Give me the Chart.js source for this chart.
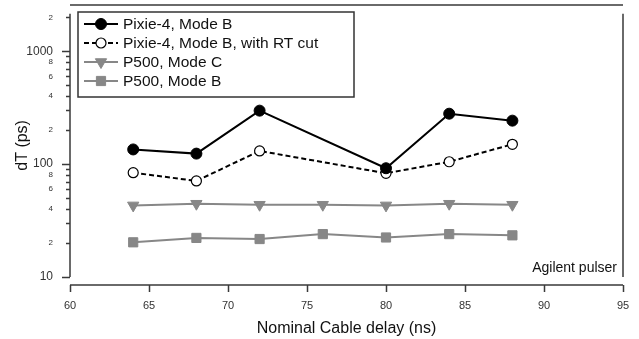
<!DOCTYPE html>
<html>
<head>
<meta charset="utf-8">
<script src="https://cdn.jsdelivr.net/npm/chart.js@4/dist/chart.umd.min.js"></script>
<style>
  html, body { margin: 0; padding: 0; background: #fff; }
  #wrap { width: 639px; height: 339px; }
</style>
</head>
<body>
<div id="wrap"><canvas id="chart" width="639" height="339"></canvas></div>
<script>
// cable delays (ns)
const delays = [64, 68, 72, 76, 80, 84, 88];
// dT (ps); null = no measurement
const pixieB     = [135, 124, 298, null, 92, 280, 243];
const pixieBRT   = [84, 71, 131, null, 83, 105, 150];
const p500C      = [43.1, 44.6, 43.7, 43.7, 43.1, 44.6, 43.7];
const p500B      = [20.3, 22.2, 21.7, 24.0, 22.4, 24.0, 23.4];

const xTicks = [60, 65, 70, 75, 80, 85, 90, 95];
const yMajor = [10, 100, 1000];
const yMax = 2150;

const FONT = '"Liberation Sans", Arial, sans-serif';

function pts(vals) {
    const out = [];
    delays.forEach(function (d, i) {
        if (vals[i] !== null) out.push({ x: d, y: vals[i] });
    });
    return out;
}

// axis lines, tick marks, frame, legend and note
const decor = {
    id: 'decor',
    afterDraw: function (chart) {
        const ctx = chart.ctx;
        const a = chart.chartArea;
        const xs = chart.scales.x, ys = chart.scales.y;
        ctx.save();
        ctx.strokeStyle = '#3a3a3a';
        ctx.lineWidth = 1.5;

        // y axis
        ctx.beginPath();
        ctx.moveTo(a.left, a.top);
        ctx.lineTo(a.left, a.bottom);
        ys.ticks.forEach(function (t) {
            const py = Math.round(ys.getPixelForValue(t.value)) + 0.5;
            const len = yMajor.indexOf(t.value) >= 0 ? 8 : 4;
            ctx.moveTo(a.left - len, py);
            ctx.lineTo(a.left, py);
        });
        ctx.stroke();

        // x axis, offset below the plot
        const ay = a.bottom + 8;
        ctx.beginPath();
        ctx.moveTo(xs.getPixelForValue(xTicks[0]), ay);
        ctx.lineTo(xs.getPixelForValue(xTicks[xTicks.length - 1]), ay);
        xTicks.forEach(function (v) {
            const px = Math.round(xs.getPixelForValue(v)) + 0.5;
            ctx.moveTo(px, ay);
            ctx.lineTo(px, ay + 7);
        });
        ctx.stroke();

        // mirror frame (top / right)
        ctx.strokeStyle = '#6a6a6a';
        ctx.lineWidth = 2;
        ctx.beginPath();
        ctx.moveTo(a.left, 5);
        ctx.lineTo(a.right, 5);
        ctx.moveTo(a.right, a.top);
        ctx.lineTo(a.right, a.bottom);
        ctx.stroke();

        // note
        ctx.fillStyle = '#111';
        ctx.font = '14px ' + FONT;
        ctx.textAlign = 'right';
        ctx.textBaseline = 'middle';
        ctx.fillText('Agilent pulser', a.right - 6, 268);

        // legend
        const lx = 78, ly = 12, lw = 276, lh = 85;
        ctx.fillStyle = '#fff';
        ctx.fillRect(lx, ly, lw, lh);
        ctx.strokeStyle = '#333';
        ctx.lineWidth = 1.5;
        ctx.strokeRect(lx, ly, lw, lh);
        chart.data.datasets.forEach(function (ds, i) {
            const cy = ly + 12 + i * 19;
            ctx.strokeStyle = ds.borderColor;
            ctx.lineWidth = ds.borderWidth;
            ctx.setLineDash(ds.borderDash || []);
            ctx.beginPath();
            ctx.moveTo(lx + 6, cy);
            ctx.lineTo(lx + 40, cy);
            ctx.stroke();
            ctx.setLineDash([]);
            ctx.fillStyle = ds.pointBackgroundColor;
            ctx.strokeStyle = ds.pointBorderColor;
            ctx.lineWidth = ds.pointBorderWidth || 1;
            Chart.helpers.drawPoint(ctx, {
                pointStyle: ds.pointStyle,
                radius: ds.pointRadius,
                rotation: ds.pointRotation || 0,
                borderWidth: ds.pointBorderWidth || 1
            }, lx + 23, cy);
            ctx.fillStyle = '#111';
            ctx.font = '15.5px ' + FONT;
            ctx.textAlign = 'left';
            ctx.fillText(ds.label, lx + 45, cy + 1);
        });
        ctx.restore();
    }
};

new Chart(document.getElementById('chart'), {
    type: 'line',
    data: {
        datasets: [
            {
                label: 'Pixie-4, Mode B',
                data: pts(pixieB),
                borderColor: '#000', borderWidth: 2,
                pointStyle: 'circle', pointRadius: 5.5,
                pointBackgroundColor: '#000', pointBorderColor: '#000', pointBorderWidth: 1
            },
            {
                label: 'Pixie-4, Mode B, with RT cut',
                data: pts(pixieBRT),
                borderColor: '#000', borderWidth: 2, borderDash: [5, 3],
                pointStyle: 'circle', pointRadius: 5,
                pointBackgroundColor: '#fff', pointBorderColor: '#000', pointBorderWidth: 1.2
            },
            {
                label: 'P500, Mode C',
                data: pts(p500C),
                borderColor: '#878787', borderWidth: 2,
                pointStyle: 'triangle', pointRadius: 6.5, pointRotation: 180,
                pointBackgroundColor: '#878787', pointBorderColor: '#878787', pointBorderWidth: 1
            },
            {
                label: 'P500, Mode B',
                data: pts(p500B),
                borderColor: '#878787', borderWidth: 2,
                pointStyle: 'rect', pointRadius: 6.5,
                pointBackgroundColor: '#878787', pointBorderColor: '#878787', pointBorderWidth: 1
            }
        ]
    },
    options: {
        responsive: false,
        animation: false,
        layout: { padding: { top: 12, right: 16, left: 0, bottom: 0 } },
        plugins: { legend: { display: false }, tooltip: { enabled: false } },
        elements: { line: { tension: 0 } },
        scales: {
            x: {
                type: 'linear',
                min: 60, max: 95,
                grid: { display: false },
                border: { display: false },
                afterBuildTicks: function (s) {
                    s.ticks = xTicks.map(function (v) { return { value: v }; });
                },
                afterFit: function (s) {
                    s.height = 62;
                    s.paddingLeft = 0;
                    s.paddingRight = 0;
                },
                ticks: {
                    padding: 14,
                    color: '#333',
                    font: { family: FONT, size: 11 }
                },
                title: {
                    display: true,
                    text: 'Nominal Cable delay (ns)',
                    color: '#111',
                    font: { family: FONT, size: 16 },
                    padding: { top: 4, bottom: 1 }
                }
            },
            y: {
                type: 'logarithmic',
                min: 10, max: yMax,
                grid: { display: false },
                border: { display: false },
                afterBuildTicks: function (s) {
                    const t = [];
                    yMajor.forEach(function (m) {
                        for (let k = 1; k <= 9; k++) {
                            if (m * k <= 2000) t.push({ value: m * k });
                        }
                    });
                    s.ticks = t;
                },
                afterFit: function (s) { s.width = 70; },
                ticks: {
                    padding: 9,
                    color: '#333',
                    autoSkip: false,
                    font: function (c) {
                        const v = c.tick ? c.tick.value : 10;
                        return { family: FONT, size: yMajor.indexOf(v) >= 0 ? 12 : 8 };
                    },
                    callback: function (v) {
                        if (yMajor.indexOf(v) >= 0) return String(v);
                        const d = Math.round(v / Math.pow(10, Math.floor(Math.log10(v) + 1e-9)));
                        return (d % 2 === 0) ? String(d) : '';
                    }
                },
                title: {
                    display: true,
                    text: 'dT (ps)',
                    color: '#111',
                    font: { family: FONT, size: 16 },
                    padding: { top: 13, bottom: 0 }
                }
            }
        }
    },
    plugins: [decor]
});
</script>
</body>
</html>
